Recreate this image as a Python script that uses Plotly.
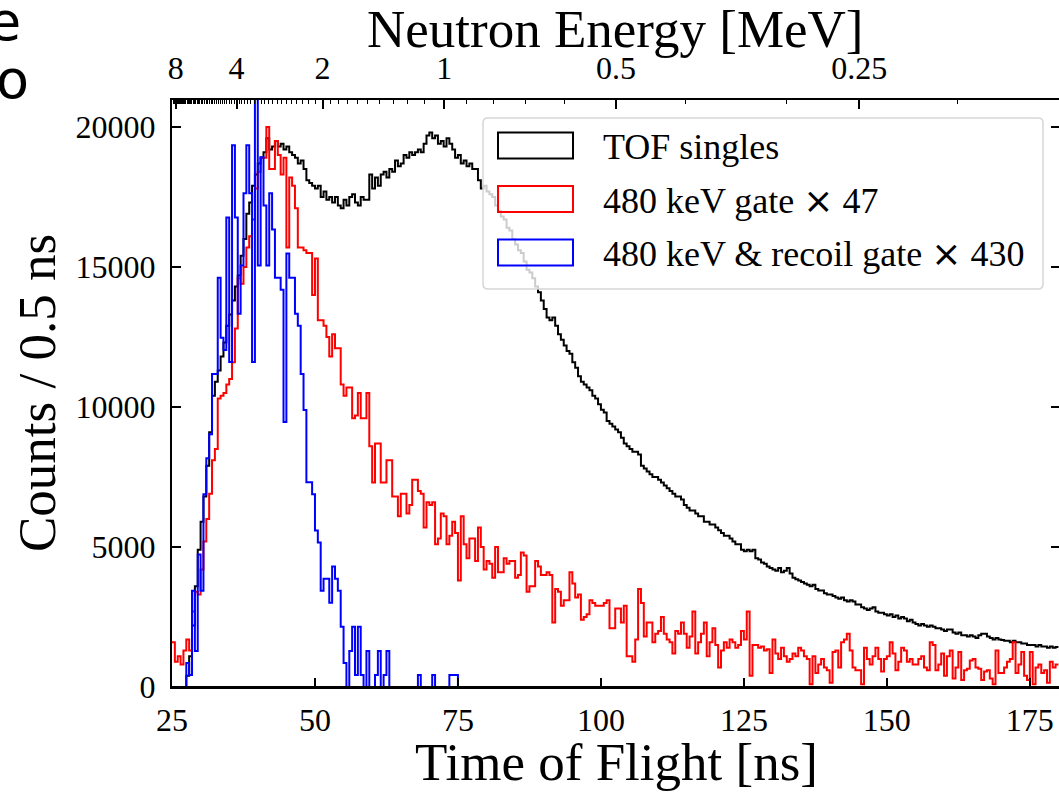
import numpy as np
import plotly.graph_objects as go

# ---------------- data (0.5 ns bins starting at 25.0 ns) ----------------
t_start = 25.0
bin_width = 0.5

tof_singles = [
    0, 0, 0, 0, 0, 400, 1100, 2200, 3600, 4900,
    5900, 6800, 7900, 9100, 10400, 10900, 11300, 11800, 12300, 12900,
    13300, 13800, 14300, 14700, 15400, 16000, 16900, 17300, 17900, 18300,
    18700, 18900, 19100, 19600, 19200, 19300, 19500, 19300, 19400, 19200,
    19300, 19100, 19000, 18900, 18700, 18800, 18500, 18100, 18000, 17900,
    17800, 17900, 17500, 17700, 17400, 17500, 17300, 17500, 17200, 17100,
    17400, 17200, 17500, 17600, 17300, 17200, 17500, 17400, 17400, 18300,
    17800, 18200, 17900, 18300, 18400, 18200, 18500, 18400, 18800, 18600,
    18700, 19000, 18900, 19100, 19000, 19100, 19200, 19100, 19400, 19700,
    19800, 19600, 19700, 19400, 19500, 19300, 19600, 19400, 19200, 18900,
    19000, 18700, 18800, 18600, 18700, 18500, 18500, 18100, 17800, 17900,
    17700, 17600, 17500, 17200, 17000, 16800, 16700, 16400, 16300, 16000,
    15800, 15600, 15500, 15200, 14900, 14800, 14600, 14300, 14100, 13800,
    13500, 13200, 13100, 13200, 12900, 12600, 12400, 12200, 12000, 11900,
    11600, 11400, 11100, 10900, 10800, 10700, 10600, 10400, 10300, 10100,
    9900, 9800, 9500, 9400, 9300, 9200, 9100, 8900, 8700, 8600,
    8500, 8400, 8400, 8300, 7900, 7800, 7700, 7600, 7500, 7500,
    7400, 7300, 7200, 7100, 7000, 6900, 6800, 6800, 6700, 6500,
    6400, 6300, 6300, 6200, 6100, 6100, 5900, 5900, 5800, 5800,
    5700, 5600, 5500, 5400, 5400, 5300, 5200, 5100, 5100, 4900,
    4850, 4900, 4850, 4900, 4600, 4550, 4450, 4400, 4300, 4250,
    4200, 4150, 4250, 4100, 4150, 4250, 4050, 3900, 3850, 3800,
    3750, 3700, 3650, 3600, 3650, 3500, 3450, 3450, 3350, 3300,
    3300, 3250, 3200, 3150, 3200, 3100, 3050, 3100, 3050, 2950,
    2950, 2850, 2800, 2750, 2800, 2850, 2700, 2650, 2650, 2600,
    2550, 2600, 2500, 2550, 2450, 2500, 2450, 2350, 2400, 2300,
    2250, 2200, 2250, 2200, 2150, 2200, 2150, 2100, 2100, 2050,
    2000, 2050, 2050, 1950, 1900, 1950, 1850, 1850, 1800, 1850,
    1800, 1750, 1850, 1900, 1900, 1800, 1750, 1700, 1750, 1700,
    1680, 1650, 1650, 1600, 1650, 1600, 1600, 1550, 1550, 1500,
    1500, 1500, 1450, 1500, 1450, 1450, 1400, 1450, 1400, 1430,
]

# 480 keV gate, already multiplied by 47
gate_480_x47 = [
    1600, 900, 1100, 800, 1300, 1700, 1300, 2700, 3400, 3300,
    4200, 5200, 6000, 6900, 8100, 8500, 10300, 10400, 10500, 10800,
    11000, 11600, 12800, 14600, 14400, 15000, 15700, 16100, 16700, 17800,
    18400, 18900, 18900, 20000, 18500, 18500, 19500, 19000, 18300, 18900,
    15700, 18200, 17900, 17100, 15700, 15700, 15600, 15500, 15500, 14000,
    15300, 13100, 13100, 12900, 12500, 11800, 12600, 12100, 12100, 10800,
    10400, 10700, 10700, 9600, 9700, 10500, 9600, 9600, 10500, 8600,
    7300, 8700, 8700, 7300, 7300, 8100, 8100, 6800, 6800, 6100,
    6900, 6900, 6200, 6500, 7400, 7400, 7000, 6900, 5700, 6600,
    6500, 6600, 5100, 5300, 6200, 6100, 5100, 5400, 5900, 5500,
    3800, 6100, 5100, 4600, 5300, 5300, 4500, 5700, 5000, 4200,
    4500, 4400, 3900, 5000, 4100, 4100, 4600, 4400, 4500, 4500,
    3900, 4000, 4800, 4700, 3400, 3600, 3600, 4500, 4300, 4000,
    4000, 4100, 4000, 2300, 3500, 3400, 2900, 3100, 3100, 4100,
    3700, 3200, 3300, 2400, 2500, 2600, 3100, 3000, 2900, 2900,
    2900, 3000, 3100, 2100, 2100, 2800, 2800, 2300, 2900, 1100,
    1100, 900, 1700, 3500, 3000, 1800, 2300, 2300, 1600, 1900,
    2000, 2500, 1900, 1700, 1600, 1200, 2000, 1900, 2300, 1900,
    1400, 1800, 2700, 1200, 1600, 1900, 2300, 1100, 1600, 2100,
    1500, 700, 1300, 1600, 1400, 1700, 1600, 1400, 1500, 2000,
    1700, 2700, 400, 1500, 1500, 1400, 1450, 1300, 1350, 500,
    1700, 1200, 1000, 1400, 1100, 900, 1000, 1200, 1100, 1400,
    1300, 1100, 1000, 100, 1100, 500, 800, 1000, 700, 600,
    150, 1250, 1300, 700, 1600, 1700, 1900, 1300, 700, 600,
    600, 100, 1400, 1000, 800, 1100, 1400, 1000, 550, 1000,
    1100, 1600, 1200, 600, 900, 1400, 1300, 900, 1000, 800,
    800, 1000, 1100, 700, 600, 1600, 1500, 600, 800, 1200,
    400, 1100, 1300, 300, 700, 1250, 250, 600, 650, 950,
    1000, 700, 650, 250, 550, 600, 300, 100, 1300, 500,
    500, 700, 900, 1000, 1600, 500, 800, 1250, 400, 250,
    1250, 100, 700, 800, 500, 600, 150, 900, 700, 800,
]

# 480 keV & recoil gate, raw counts (drawn multiplied by 430)
recoil_scale = 430
gate_recoil_raw = [
    0, 0, 0, 0, 0, 2, 1, 8, 3, 11,
    8, 16, 19, 21, 26, 26, 34, 29, 28, 39,
    27, 45, 39, 31, 35, 41, 45, 41, 27, 49,
    35, 44, 40, 35, 41, 38, 34, 34, 33, 22,
    36, 34, 34, 31, 30, 26, 23, 17, 17, 16,
    13, 12, 8, 9, 9, 7, 10, 9, 8, 5,
    2, 0, 3, 5, 1, 5, 1, 0, 3, 0,
    0, 1, 3, 0, 1, 3, 0, 0, 0, 0,
    0, 0, 0, 0, 0, 0, 1, 0, 0, 0,
    0, 1, 0, 0, 0, 0, 0, 1, 1, 1,
] + [0] * 210

series_names = ["TOF singles", "480 keV gate × 47", "480 keV & recoil gate × 430"]
series_colors = ["#000000", "#ff0000", "#0000ff"]

x_ticks = [25, 50, 75, 100, 125, 150, 175]
x_tick_labels = ["25", "50", "75", "100", "125", "150", "175"]
y_ticks = [0, 5000, 10000, 15000, 20000]
y_tick_labels = ["0", "5000", "10000", "15000", "20000"]

energy_major = [8, 4, 2, 1, 0.5, 0.25]
energy_major_labels = ["8", "4", "2", "1", "0.5", "0.25"]

# ---------------- helpers ----------------
FLIGHT_PATH_M = 1.004
C_M_PER_NS = 0.299792458
M_N_MEV = 939.565


def tof_of_energy(e_mev):
    beta = np.sqrt(2.0 * np.asarray(e_mev, dtype=float) / M_N_MEV)
    return FLIGHT_PATH_M / (C_M_PER_NS * beta)


energy_minor = [round(0.1 * k, 1) for k in range(2, 85)]
energy_minor = [e for e in energy_minor if all(abs(e - m) > 1e-9 for m in energy_major)]

W, H = 1059, 792
ML, MR, MT, MB = 172, 0, 100, 105
PW, PH = W - ML - MR, H - MT - MB
X_RANGE = [25.0, 180.1]
Y_RANGE = [0, 20964]


def px(xpix):
    return (xpix - ML) / PW


def py(ypix):
    return (H - MB - ypix) / PH


FONT = "Liberation Serif"

n = len(tof_singles)
edges = t_start + bin_width * np.arange(n + 1)


def step_y(vals):
    v = list(vals)
    return v + [v[-1]]


fig = go.Figure()
all_series = [
    tof_singles,
    gate_480_x47,
    [c * recoil_scale for c in gate_recoil_raw],
]
for name, col, vals in zip(series_names, series_colors, all_series):
    fig.add_trace(go.Scatter(
        x=edges, y=step_y(vals[:n]), mode="lines", name=name,
        line=dict(color=col, width=2, shape="hv"),
        showlegend=False, hoverinfo="skip",
    ))

# dummy trace to activate top / right axes
fig.add_trace(go.Scatter(x=[None], y=[None], xaxis="x2", yaxis="y2",
                         mode="lines", showlegend=False, hoverinfo="skip"))

axis_common = dict(showgrid=False, zeroline=False, ticks="inside",
                   tickcolor="black", tickwidth=1.5, ticklen=9,
                   linecolor="black", linewidth=2,
                   tickfont=dict(family=FONT, size=32, color="black"))

fig.update_layout(
    width=W, height=H,
    margin=dict(l=ML, r=MR, t=MT, b=MB, autoexpand=False),
    paper_bgcolor="white", plot_bgcolor="white",
    xaxis=dict(range=X_RANGE, tickmode="array", tickvals=x_ticks,
               ticktext=x_tick_labels,
               showline=True, mirror=False, ticklabelstandoff=4,
               **axis_common),
    yaxis=dict(range=Y_RANGE, tickmode="array", tickvals=y_ticks,
               ticktext=y_tick_labels,
               showline=True, mirror=False, ticklabelstandoff=8,
               **axis_common),
    xaxis2=dict(range=X_RANGE, overlaying="x", side="top", anchor="y",
                tickmode="array", tickvals=list(tof_of_energy(energy_major)),
                ticktext=energy_major_labels, showline=True,
                ticklabelstandoff=6,
                minor=dict(tickmode="array",
                           tickvals=list(tof_of_energy(energy_minor)),
                           ticks="inside", ticklen=4, tickwidth=1.2,
                           tickcolor="black"),
                **axis_common),
    yaxis2=dict(range=Y_RANGE, overlaying="y", side="right", anchor="x",
                tickmode="array", tickvals=y_ticks, showticklabels=False,
                showline=False, showgrid=False, zeroline=False,
                ticks="inside", tickcolor="black", tickwidth=1.5, ticklen=8),
    showlegend=False,
)

annotations = []
# axis titles
annotations.append(dict(text="Time of Flight [ns]", x=px(616), y=py(762),
                        xref="paper", yref="paper", xanchor="center", yanchor="middle",
                        borderpad=0,
                        showarrow=False, font=dict(family=FONT, size=53, color="black")))
annotations.append(dict(text="Neutron Energy [MeV]", x=px(615), y=py(29),
                        xref="paper", yref="paper", xanchor="center", yanchor="middle",
                        borderpad=0,
                        showarrow=False, font=dict(family=FONT, size=53, color="black")))
annotations.append(dict(text="Counts / 0.5 ns", x=px(37), y=py(393), textangle=-90,
                        xref="paper", yref="paper", xanchor="center", yanchor="middle",
                        showarrow=False, font=dict(family=FONT, size=53, color="black")))
# cropped fragments of neighbouring text at top-left
annotations.append(dict(text="e", x=px(23), y=py(21), xref="paper", yref="paper",
                        xanchor="right", yanchor="middle", showarrow=False,
                        font=dict(family="DejaVu Sans", size=54, color="black")))
annotations.append(dict(text="o", x=px(31), y=py(79), xref="paper", yref="paper",
                        xanchor="right", yanchor="middle", showarrow=False,
                        font=dict(family="DejaVu Sans", size=54, color="black")))

shapes = []
# bottom spine drawn over the traces so zero-level steps stay hidden
shapes.append(dict(type="line", xref="paper", yref="paper", x0=0, x1=1,
                   y0=py(687.5), y1=py(687.5), line=dict(color="black", width=3),
                   layer="above"))
# legend box with rounded corners
bx0, bx1, by0, by1, r = 483, 1043, 118, 289, 5
path = (f"M {px(bx0 + r)},{py(by0)} L {px(bx1 - r)},{py(by0)} "
        f"Q {px(bx1)},{py(by0)} {px(bx1)},{py(by0 + r)} "
        f"L {px(bx1)},{py(by1 - r)} Q {px(bx1)},{py(by1)} {px(bx1 - r)},{py(by1)} "
        f"L {px(bx0 + r)},{py(by1)} Q {px(bx0)},{py(by1)} {px(bx0)},{py(by1 - r)} "
        f"L {px(bx0)},{py(by0 + r)} Q {px(bx0)},{py(by0)} {px(bx0 + r)},{py(by0)} Z")
shapes.append(dict(type="path", path=path, xref="paper", yref="paper",
                   fillcolor="rgba(255,255,255,0.8)",
                   line=dict(color="#d6d6d6", width=1.5), layer="above"))
row_centers = [145.5, 199, 252.5]
legend_texts = [
    "TOF singles",
    '480 keV gate <span style="font-family:DejaVu Sans">×</span> 47',
    '480 keV &amp; recoil gate <span style="font-family:DejaVu Sans">×</span> 430',
]
for txt, col, yc in zip(legend_texts, series_colors, row_centers):
    shapes.append(dict(type="rect", xref="paper", yref="paper",
                       x0=px(498), x1=px(573), y0=py(yc - 13), y1=py(yc + 13),
                       line=dict(color=col, width=2), fillcolor="rgba(0,0,0,0)",
                       layer="above"))
    annotations.append(dict(text=txt, x=px(601), y=py(yc + 1), xref="paper", yref="paper",
                            xanchor="left", yanchor="middle", showarrow=False,
                            font=dict(family=FONT, size=36, color="black")))

fig.update_layout(annotations=annotations, shapes=shapes)

fig.write_html("out.html")
